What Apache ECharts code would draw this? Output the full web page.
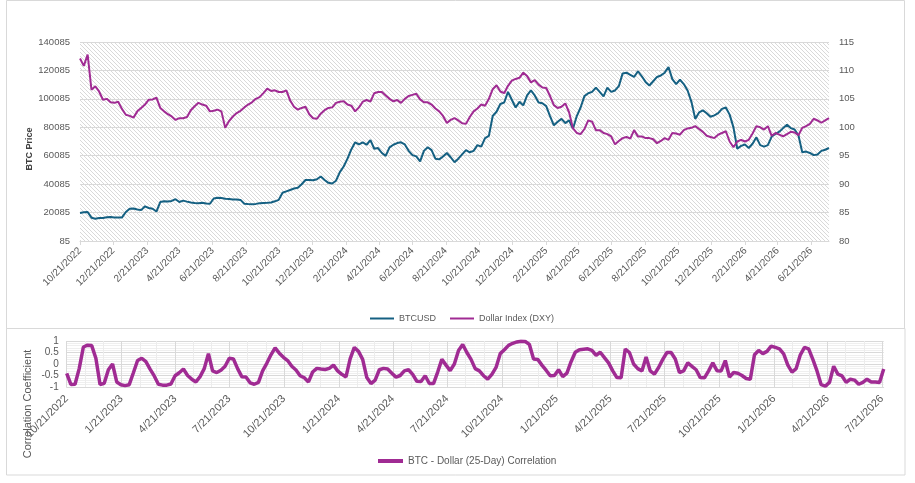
<!DOCTYPE html>
<html>
<head>
<meta charset="utf-8">
<script src="https://cdn.jsdelivr.net/npm/echarts@6/dist/echarts.min.js"></script>
<style>
html,body{margin:0;padding:0;background:#fff;}
#main{width:915px;height:483px;}
</style>
</head>
<body>
<div id="main"></div>
<script>
// weekly samples, first one on 10/21/2022
var startDate = Date.UTC(2022, 9, 21);
var dayCount = 1373;
var step = 7;

var btcusd = [
  19800, 20300, 20500, 16500, 15800, 16300, 16300, 16800, 17000, 16600,
  16600, 16700, 20500, 22800, 23000, 22300, 21800, 24500, 23300, 22800,
  20800, 27500, 28000, 27800, 28300, 29500, 27500, 28500, 27800, 27200,
  26800, 26700, 27000, 26500, 26300, 30000, 30500, 30300, 29800, 29600,
  29300, 29200, 29000, 26300, 26100, 26000, 26200, 26600, 26900, 27000,
  27200, 28000, 29000, 34000, 35000, 36000, 37000, 37500, 40000, 43000,
  43000, 42800, 43500, 45500, 43000, 41000, 40500, 42500,
  48500, 52500, 58000, 64500, 69500, 68000, 69500, 67800, 71000, 65000,
  65500, 62000, 60000, 66000, 67800, 69000, 69500, 68000, 63500, 60500,
  59600, 56100, 63500, 66000, 64000, 58000, 57500, 59500, 62000, 59000,
  55500, 58000, 61000, 64000, 62500, 63500, 67500, 66500, 72500, 74000,
  88000, 91000, 96500, 97500, 105000, 99500, 94000, 98000, 95500, 102500,
  106000, 102500, 97500, 97000, 95000, 88000, 81500, 84000, 86000, 83000,
  85000, 79000, 88000, 94000, 102000, 104000,
  105000, 108000, 105000, 101800, 108000, 105000, 106000, 109000, 118000, 118500,
  117000, 115500, 119500, 116000, 112000, 109500, 112500, 115500, 116500, 118500,
  122500, 114000, 110500, 113500, 110500, 106000, 98000, 86000, 90500, 92000,
  90000, 87500, 88500, 90000, 93000, 94000, 89000, 80000, 65000, 67000,
  68000, 65500, 68500, 73000, 67500, 66500, 67500, 73500, 75500, 77000,
  79500, 81900, 79500, 78500, 74500, 62500, 63000, 62000, 60500, 61000,
  63500, 64300, 65500
];

var dxy = [
  112.1, 110.8, 112.8, 106.6, 107.2, 106.3, 104.85, 105.0, 104.4, 104.3,
  104.5, 103.2, 102.2, 102.0, 101.7, 102.8, 103.4, 104.0, 104.85, 104.9,
  105.2, 103.4, 102.8, 102.3, 101.9, 101.3, 101.6, 101.6, 101.8, 103.0,
  103.7, 104.3, 104.0, 103.8, 102.8, 102.9, 103.1, 102.8, 99.9, 101.1,
  101.9, 102.5, 102.9, 103.5, 104.0, 104.4, 105.0, 105.3, 106.0, 106.8,
  106.4, 106.5, 106.2, 106.2, 106.5, 104.7, 103.6, 103.1, 103.4, 103.6,
  102.3, 101.6, 101.5, 102.4, 103.0, 103.4, 103.5, 104.3,
  104.5, 104.6, 104.0, 103.8, 102.8, 103.5, 104.5, 104.8, 104.5, 106.0,
  106.2, 106.2, 105.6, 105.0, 104.55, 104.8, 104.3, 105.0, 105.5, 105.7,
  105.9, 104.9, 104.4, 104.4, 104.0, 103.3, 102.8, 102.0, 100.75, 101.3,
  101.6, 101.2, 100.7, 100.6, 101.8, 102.8, 103.3, 104.0, 103.8, 105.0,
  106.7, 107.4, 106.3, 106.0, 107.3, 108.2, 108.5, 108.7, 109.6, 109.0,
  107.9, 108.3, 107.5, 107.0, 106.9, 105.5, 103.9, 103.4, 103.6, 104.2,
  102.6, 99.8, 99.0, 98.8, 99.7, 101.2,
  101.0, 99.5, 99.5, 99.0, 98.8, 98.4, 97.0, 97.6, 98.1, 98.3,
  98.0, 99.5, 98.4, 98.4, 98.1, 98.1, 97.9, 97.2, 97.6, 98.1,
  97.8, 99.0, 98.9, 98.7, 99.5, 99.8, 99.9, 100.2, 99.7, 99.2,
  98.5, 98.3, 98.1, 98.7, 99.0, 99.3, 97.5, 96.5, 97.5, 97.8,
  97.5, 97.8, 98.9, 100.2, 100.0, 99.6, 100.2, 98.5, 99.0, 98.7,
  98.4, 98.8, 99.2, 99.1, 98.6, 99.9, 100.2, 100.6, 101.5, 101.2,
  100.8, 101.2, 101.6
];

var corr25 = [
  -0.41, -0.89, -0.88, -0.2, 0.74, 0.82, 0.8, 0.25, -0.89, -0.84,
  -0.25, 0.0, -0.78, -0.9, -0.94, -0.9, -0.38, 0.15, 0.25, 0.1,
  -0.22, -0.52, -0.88, -0.92, -0.92, -0.87, -0.51, -0.38, -0.22, -0.5,
  -0.66, -0.78, -0.55, -0.2, 0.45, -0.3, -0.37, -0.27, -0.1, 0.25,
  0.22, -0.2, -0.55, -0.56, -0.82, -0.88, -0.8, -0.3, 0.03, 0.4,
  0.7, 0.47, 0.29, 0.15, -0.1, -0.26, -0.51, -0.6, -0.78, -0.35,
  -0.19, -0.22, -0.24, -0.19, -0.05, -0.3,
  -0.45, -0.56, 0.22, 0.72, 0.55, 0.2, -0.59, -0.85, -0.7, -0.25,
  -0.19, -0.22, -0.4, -0.57, -0.5, -0.3, -0.25, -0.45, -0.75, -0.76,
  -0.51, -0.85, -0.85, -0.35, 0.2, -0.05, -0.29, 0.0, 0.59, 0.85,
  0.5, 0.2, -0.2, -0.3, -0.51, -0.66, -0.45, -0.15, 0.45, 0.62,
  0.81, 0.9, 0.96, 0.99, 0.98, 0.85, 0.22, 0.2, -0.05, -0.27,
  -0.51, -0.5, -0.25, -0.55, -0.4, 0.1, 0.51, 0.62, 0.64, 0.66,
  0.59, 0.38, 0.51, 0.28,
  0.05, -0.3, -0.59, -0.6, 0.65, 0.5, 0.0, -0.2, -0.3, 0.3,
  -0.3, -0.44, -0.15, 0.2, 0.5, 0.5, 0.22, -0.37, -0.3, 0.05,
  -0.1, -0.25, -0.59, -0.6, -0.3, 0.05, -0.29, -0.3, 0.15, -0.57,
  -0.37, -0.4, -0.5, -0.63, -0.66, 0.4, 0.59, 0.45, 0.55, 0.78,
  0.72, 0.66, 0.44, -0.05, -0.35, -0.2, 0.4, 0.72, 0.66, 0.2,
  -0.3, -0.9, -0.96, -0.8, -0.1, -0.44, -0.52, -0.8, -0.66, -0.7,
  -0.88, -0.8, -0.66, -0.78, -0.78, -0.8, -0.22
];

// label months (always on the 21st)
var priceTickMonths = [2, 4, 6, 8, 10, 12];
var corrTickMonths = [1, 4, 7, 10];
var allMonths = [1, 2, 3, 4, 5, 6, 7, 8, 9, 10, 11, 12];
var tickDay = 21;

var days = [];
for (var i = 0; i < dayCount; i++) {
  var d = new Date(startDate + i * 86400000);
  days.push((d.getUTCMonth() + 1) + '/' + d.getUTCDate() + '/' + d.getUTCFullYear());
}

function tickAt(months) {
  return function (idx, val) {
    var p = String(val).split('/');
    return +p[1] === tickDay && months.indexOf(+p[0]) >= 0;
  };
}

function weekly(arr) {
  return arr.map(function (v, k) { return [k * step, v]; });
}

// hatched plot background
var hatch = document.createElement('canvas');
hatch.width = 4;
hatch.height = 4;
var hc = hatch.getContext('2d');
hc.fillStyle = '#ffffff';
hc.fillRect(0, 0, 4, 4);
hc.fillStyle = '#d9d9d9';
for (var j = 0; j < 4; j++) hc.fillRect(j, j, 1, 1);

var grey = '#595959';
var font = 'Liberation Sans';

var chart = echarts.init(document.getElementById('main'));
var option = {
  animation: false,
  backgroundColor: '#ffffff',
  textStyle: {fontFamily: font},
  grid: [
    {left: 80, top: 42, width: 749, height: 199, show: true, borderWidth: 0,
     backgroundColor: {image: hatch, repeat: 'repeat'}},
    {left: 66.7, top: 341, width: 817, height: 46}
  ],
  xAxis: [
    {gridIndex: 0, type: 'category', position: 'bottom', data: days, boundaryGap: false,
     axisLine: {lineStyle: {color: '#d9d9d9'}},
     axisTick: {interval: tickAt(priceTickMonths), length: 4, lineStyle: {color: '#d9d9d9'}},
     axisLabel: {interval: tickAt(priceTickMonths), rotate: 45, fontSize: 10, color: grey, margin: 8},
     splitLine: {show: false}},
    {gridIndex: 1, type: 'category', position: 'bottom', data: days, boundaryGap: false,
     axisLine: {show: false}, axisTick: {show: false}, axisLabel: {show: false},
     splitLine: {show: true, interval: tickAt(allMonths), lineStyle: {color: '#ececec'}}},
    {gridIndex: 1, type: 'category', position: 'bottom', data: days, boundaryGap: false,
     axisLine: {lineStyle: {color: '#d9d9d9'}},
     axisTick: {show: false},
     axisLabel: {interval: tickAt(corrTickMonths), rotate: 45, fontSize: 11, color: grey, margin: 10},
     splitLine: {show: true, interval: tickAt(corrTickMonths), lineStyle: {color: '#d9d9d9'}}}
  ],
  yAxis: [
    {gridIndex: 0, type: 'value', min: 85, max: 140085, interval: 20000,
     axisLine: {show: false}, axisTick: {show: false},
     axisLabel: {fontSize: 9.5, color: grey, margin: 10, formatter: function (v) { return String(Math.round(v)); }},
     splitLine: {lineStyle: {color: '#d9d9d9'}}},
    {gridIndex: 0, type: 'value', position: 'right', min: 80, max: 115, interval: 5,
     axisLine: {show: false}, axisTick: {show: false},
     axisLabel: {fontSize: 9.5, color: grey, margin: 10},
     splitLine: {show: false}},
    {gridIndex: 1, type: 'value', position: 'left', min: -1, max: 1, interval: 0.5,
     axisLine: {show: false}, axisTick: {show: false},
     axisLabel: {fontSize: 10, color: grey, margin: 8},
     splitLine: {lineStyle: {color: '#d9d9d9'}},
     minorTick: {show: false, splitNumber: 5},
     minorSplitLine: {show: true, lineStyle: {color: '#efefef'}}}
  ],
  legend: [
    {data: ['BTCUSD', 'Dollar Index (DXY)'], left: 365, top: 309, icon: 'rect',
     itemWidth: 24, itemHeight: 2, itemGap: 14,
     textStyle: {fontSize: 9, color: grey}},
    {data: ['BTC - Dollar (25-Day) Correlation'], left: 373, top: 451, icon: 'rect',
     itemWidth: 25, itemHeight: 4,
     textStyle: {fontSize: 10, color: grey}}
  ],
  graphic: [
    {type: 'rect', silent: true, shape: {x: 6.5, y: 0.5, width: 898, height: 328},
     style: {fill: 'none', stroke: '#d9d9d9', lineWidth: 1}},
    {type: 'rect', silent: true, shape: {x: 6.5, y: 328.5, width: 898.5, height: 146.5},
     style: {fill: 'none', stroke: '#d9d9d9', lineWidth: 1}},
    {type: 'text', silent: true, x: 30, y: 149, rotation: Math.PI / 2,
     style: {text: 'BTC Price', font: 'bold 9px "Liberation Sans"', fill: '#404040',
             textAlign: 'center', textVerticalAlign: 'middle'}},
    {type: 'text', silent: true, x: 28, y: 404, rotation: Math.PI / 2,
     style: {text: 'Correlation Coefficient', font: '11px "Liberation Sans"', fill: grey,
             textAlign: 'center', textVerticalAlign: 'middle'}}
  ],
  series: [
    {name: 'BTCUSD', type: 'line', xAxisIndex: 0, yAxisIndex: 0, data: weekly(btcusd),
     symbol: 'none', lineStyle: {color: '#156082', width: 2}, itemStyle: {color: '#156082'}},
    {name: 'Dollar Index (DXY)', type: 'line', xAxisIndex: 0, yAxisIndex: 1, data: weekly(dxy),
     symbol: 'none', lineStyle: {color: '#A02B93', width: 2}, itemStyle: {color: '#A02B93'}},
    {name: 'BTC - Dollar (25-Day) Correlation', type: 'line', xAxisIndex: 2, yAxisIndex: 2, data: weekly(corr25),
     symbol: 'none', lineStyle: {color: '#A02B93', width: 3.5}, itemStyle: {color: '#A02B93'}}
  ]
};
chart.setOption(option);
</script>
</body>
</html>
